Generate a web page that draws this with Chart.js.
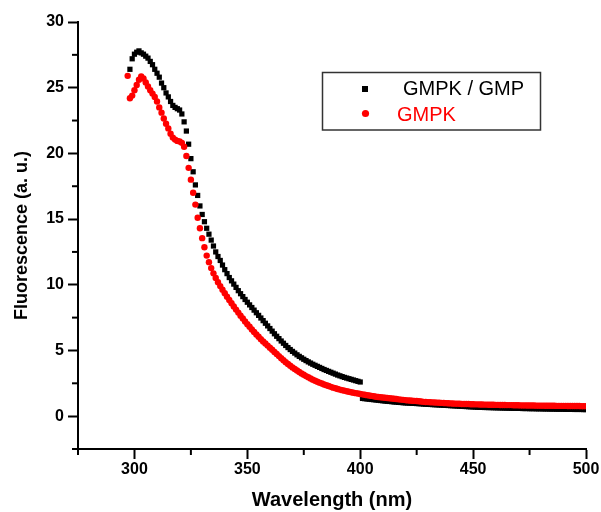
<!DOCTYPE html>
<html>
<head>
<meta charset="utf-8">
<script src="https://cdn.jsdelivr.net/npm/chart.js@4.4.1/dist/chart.umd.min.js"></script>
<style>
html,body{margin:0;padding:0;background:#fff;}
#wrap{width:601px;height:512px;position:relative;}
</style>
</head>
<body>
<div id="wrap"><canvas id="c" width="601" height="512"></canvas></div>
<script>
// ---- Data (1 nm sampling) ----
const seriesNames = ['GMPK / GMP', 'GMPK'];

// GMPK / GMP, first segment 298..400 nm
const gmpkGmpStart1 = 298;
const gmpkGmpValues1 = [
  26.4, 27.2, 27.55, 27.7, 27.8, 27.65, 27.55, 27.4, 27.25, 27.0,
  26.75, 26.4, 26.1, 25.8, 25.35, 25.0, 24.6, 24.3, 23.95, 23.65,
  23.5, 23.4, 23.3, 23.0, 22.4, 21.7, 20.7, 19.6, 18.6, 17.6,
  16.8, 16.0, 15.35, 14.8, 14.3, 13.85, 13.4, 12.95, 12.5, 12.15,
  11.85, 11.5, 11.15, 10.85, 10.55, 10.3, 10.05, 9.8, 9.55, 9.32,
  9.1, 8.88, 8.67, 8.47, 8.27, 8.07, 7.87, 7.67, 7.47, 7.27,
  7.07, 6.87, 6.67, 6.47, 6.27, 6.08, 5.9, 5.72, 5.55, 5.38,
  5.22, 5.07, 4.93, 4.8, 4.67, 4.55, 4.44, 4.33, 4.23, 4.13,
  4.04, 3.95, 3.87, 3.79, 3.71, 3.63, 3.55, 3.48, 3.41, 3.34,
  3.27, 3.2, 3.13, 3.07, 3.01, 2.95, 2.9, 2.85, 2.8, 2.75,
  2.7, 2.65, 2.6
];
// GMPK / GMP, second segment 401..500 nm
const gmpkGmpStart2 = 401;
const gmpkGmpValues2 = [
  1.35, 1.33, 1.31, 1.29, 1.27, 1.25, 1.23, 1.21, 1.19, 1.17,
  1.15, 1.13, 1.12, 1.1, 1.08, 1.07, 1.05, 1.04, 1.02, 1.01,
  1.0, 0.99, 0.98, 0.97, 0.96, 0.95, 0.94, 0.92, 0.91, 0.9,
  0.89, 0.88, 0.87, 0.86, 0.85, 0.84, 0.83, 0.82, 0.81, 0.8,
  0.79, 0.78, 0.77, 0.76, 0.75, 0.74, 0.73, 0.72, 0.71, 0.7,
  0.69, 0.68, 0.67, 0.67, 0.66, 0.66, 0.65, 0.65, 0.64, 0.64,
  0.63, 0.63, 0.62, 0.62, 0.61, 0.61, 0.6, 0.6, 0.6, 0.59,
  0.59, 0.58, 0.58, 0.58, 0.57, 0.57, 0.57, 0.56, 0.56, 0.56,
  0.55, 0.55, 0.55, 0.54, 0.54, 0.54, 0.53, 0.53, 0.53, 0.53,
  0.52, 0.52, 0.52, 0.52, 0.51, 0.51, 0.51, 0.51, 0.5, 0.5
];
// GMPK, 297..500 nm
const gmpkStart = 297;
const gmpkValues = [
  25.9, 24.2, 24.4, 24.8, 25.2, 25.6, 25.85, 25.7, 25.4, 25.1,
  24.8, 24.55, 24.3, 23.95, 23.5, 23.1, 22.65, 22.25, 21.9, 21.5,
  21.2, 21.05, 20.95, 20.9, 20.8, 20.5, 19.8, 18.9, 18.0, 17.0,
  16.1, 15.1, 14.3, 13.55, 12.85, 12.22, 11.72, 11.27, 10.87, 10.52,
  10.2, 9.9, 9.62, 9.35, 9.09, 8.84, 8.59, 8.35, 8.11, 7.88,
  7.65, 7.43, 7.21, 7.0, 6.8, 6.6, 6.41, 6.22, 6.04, 5.86,
  5.69, 5.53, 5.37, 5.21, 5.05, 4.89, 4.73, 4.57, 4.41, 4.26,
  4.11, 3.97, 3.84, 3.71, 3.59, 3.47, 3.36, 3.25, 3.15, 3.05,
  2.96, 2.87, 2.78, 2.7, 2.62, 2.55, 2.48, 2.41, 2.35, 2.29,
  2.23, 2.17, 2.12, 2.07, 2.02, 1.98, 1.94, 1.9, 1.86, 1.82,
  1.78, 1.75, 1.72, 1.69, 1.66, 1.63, 1.6, 1.57, 1.54, 1.51,
  1.48, 1.46, 1.44, 1.42, 1.4, 1.38, 1.36, 1.34, 1.32, 1.3,
  1.28, 1.26, 1.24, 1.22, 1.2, 1.19, 1.17, 1.16, 1.15, 1.13,
  1.11, 1.09, 1.08, 1.07, 1.06, 1.05, 1.04, 1.03, 1.02, 1.01,
  1.0, 0.99, 0.98, 0.97, 0.96, 0.95, 0.95, 0.94, 0.93, 0.93,
  0.92, 0.92, 0.91, 0.91, 0.9, 0.9, 0.89, 0.89, 0.88, 0.88,
  0.87, 0.87, 0.87, 0.86, 0.86, 0.85, 0.85, 0.85, 0.84, 0.84,
  0.84, 0.83, 0.83, 0.83, 0.82, 0.82, 0.82, 0.81, 0.81, 0.81,
  0.81, 0.8, 0.8, 0.8, 0.8, 0.79, 0.79, 0.79, 0.79, 0.79,
  0.78, 0.78, 0.78, 0.78, 0.78, 0.77, 0.77, 0.77, 0.77, 0.77,
  0.77, 0.76, 0.76, 0.76
];

const xMajorTicks = [300, 350, 400, 450, 500];
const xMinorTicks = [275, 325, 375, 425, 475];
const yMajorTicks = [0, 5, 10, 15, 20, 25, 30];
const yMinorTicks = [-2.5, 2.5, 7.5, 12.5, 17.5, 22.5, 27.5];
const xRange = [275, 500];
const yRange = [-2.5, 30];
const xTitle = 'Wavelength (nm)';
const yTitle = 'Fluorescence (a. u.)';

// ---- build datasets ----
function toPoints(start, values) {
  return values.map((v, i) => ({ x: start + i, y: v }));
}
const blackPoints = toPoints(gmpkGmpStart1, gmpkGmpValues1).concat(toPoints(gmpkGmpStart2, gmpkGmpValues2));
const redPoints = toPoints(gmpkStart, gmpkValues);

const FONT = 'Liberation Sans, Arial, sans-serif';

const minorTicks = {
  id: 'minorTicks',
  afterDraw(chart) {
    const ctx = chart.ctx, xs = chart.scales.x, ys = chart.scales.y, a = chart.chartArea;
    ctx.save();
    ctx.strokeStyle = '#000';
    ctx.lineWidth = 2;
    xMinorTicks.forEach(v => {
      const p = xs.getPixelForValue(v);
      ctx.beginPath(); ctx.moveTo(p, a.bottom); ctx.lineTo(p, a.bottom + 6); ctx.stroke();
    });
    yMinorTicks.forEach(v => {
      const p = ys.getPixelForValue(v);
      ctx.beginPath(); ctx.moveTo(a.left, p); ctx.lineTo(a.left - 6, p); ctx.stroke();
    });
    ctx.restore();
  }
};

const legendBox = {
  id: 'legendBox',
  afterDraw(chart) {
    const ctx = chart.ctx;
    const ds = chart.data.datasets;
    ctx.save();
    ctx.strokeStyle = '#333';
    ctx.lineWidth = 1.5;
    ctx.strokeRect(322.5, 72.5, 218, 57.5);
    ctx.font = '20px ' + FONT;
    ctx.textBaseline = 'alphabetic';
    ctx.textAlign = 'left';
    ctx.fillStyle = ds[0].backgroundColor;
    ctx.fillRect(362, 86, 6, 6);
    ctx.fillText(ds[0].label, 403, 95);
    ctx.fillStyle = ds[1].backgroundColor;
    ctx.beginPath(); ctx.arc(365.5, 113.5, 3.6, 0, Math.PI * 2); ctx.fill();
    ctx.fillText(ds[1].label, 397, 121);
    ctx.restore();
  }
};

const tickFont = { family: FONT, size: 16, weight: 'bold' };

new Chart(document.getElementById('c'), {
  type: 'scatter',
  data: {
    datasets: [
      { label: seriesNames[0], data: blackPoints, pointStyle: 'rect', pointRadius: 3.7,
        backgroundColor: '#000000', borderWidth: 0, showLine: false, order: 1 },
      { label: seriesNames[1], data: redPoints, pointStyle: 'circle', pointRadius: 3.2,
        backgroundColor: '#ff0000', borderWidth: 0, showLine: false, order: 0 }
    ]
  },
  options: {
    responsive: false,
    animation: false,
    devicePixelRatio: 1,
    layout: { padding: { left: 0, top: 22, right: 15, bottom: 0 } },
    plugins: { legend: { display: false }, tooltip: { enabled: false } },
    elements: { point: { hoverRadius: 3.7 } },
    scales: {
      x: {
        type: 'linear', min: xRange[0], max: xRange[1],
        afterBuildTicks: s => { s.ticks = xMajorTicks.map(v => ({ value: v })); },
        afterFit: s => { s.height = 63; },
        grid: { drawOnChartArea: false, drawTicks: true, tickLength: 10, tickColor: '#000', tickWidth: 2 },
        border: { display: true, color: '#000', width: 2 },
        ticks: { color: '#000', font: tickFont, padding: 1, maxRotation: 0, autoSkip: false },
        title: { display: true, text: xTitle, color: '#000',
                 font: { family: FONT, size: 20, weight: 'bold' }, padding: { top: 0, bottom: 0 } }
      },
      y: {
        type: 'linear', min: yRange[0], max: yRange[1],
        afterBuildTicks: s => { s.ticks = yMajorTicks.map(v => ({ value: v })); },
        afterFit: s => { s.width = 78; },
        grid: { drawOnChartArea: false, drawTicks: true, tickLength: 10, tickColor: '#000', tickWidth: 2 },
        border: { display: true, color: '#000', width: 2 },
        ticks: { color: '#000', font: tickFont, padding: 4, autoSkip: false },
        title: { display: true, text: yTitle, color: '#000',
                 font: { family: FONT, size: 18, weight: 'bold' }, padding: { top: 11, bottom: 0 } }
      }
    }
  },
  plugins: [minorTicks, legendBox]
});
</script>
</body>
</html>
